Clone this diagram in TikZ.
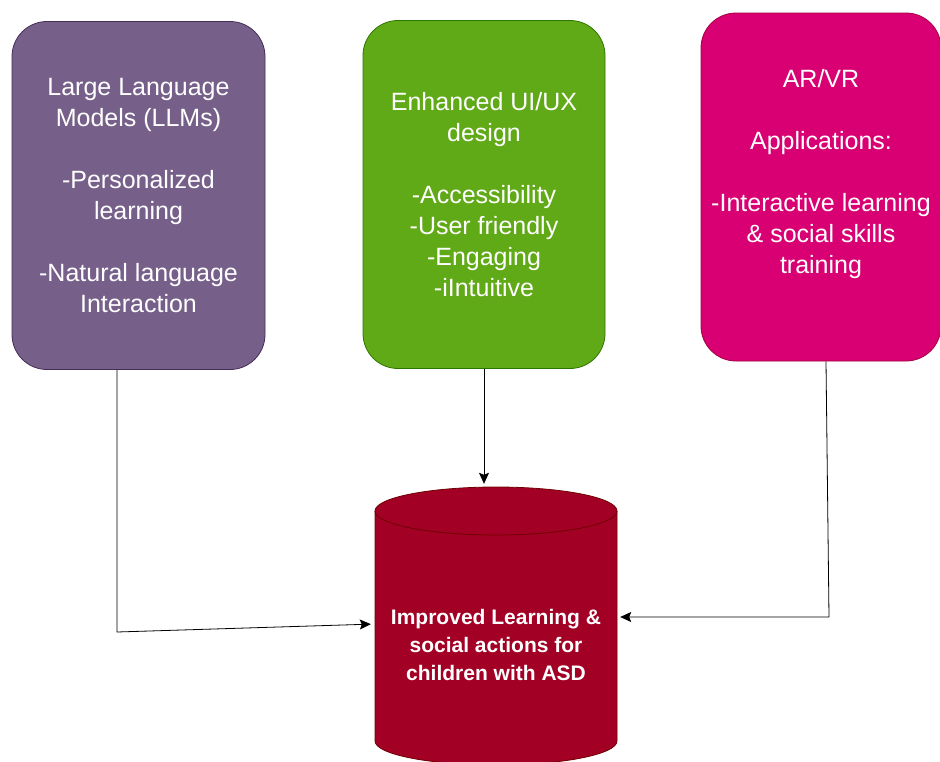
\documentclass[tikz,border=0pt]{standalone}
\usepackage{fontspec}
\setmainfont{Liberation Sans}
\usetikzlibrary{arrows.meta}
\definecolor{llmfill}{HTML}{76608A}
\definecolor{llmline}{HTML}{432D57}
\definecolor{uifill}{HTML}{60A917}
\definecolor{uiline}{HTML}{2D7600}
\definecolor{arfill}{HTML}{D80073}
\definecolor{arline}{HTML}{A50040}
\definecolor{goalfill}{HTML}{A20025}
\definecolor{goalline}{HTML}{6F0000}
\tikzset{
  topbox/.style={draw,rounded corners=35pt,line width=0.8pt,inner sep=0pt,
    align=center,text=white,minimum height=348pt,
    font=\fontsize{25}{31}\selectfont},
  goalbox/.style={inner sep=0pt,minimum width=242pt,minimum height=278pt},
  goalcyl/.style={draw=goalline,fill=goalfill,line width=0.8pt},
  goaltext/.style={align=center,text=white,font=\bfseries\fontsize{21}{28}\selectfont},
  link/.style={draw=black,line width=0.8pt,-{Stealth[length=11pt,width=10pt,inset=2pt]}}
}
\begin{document}
\begin{tikzpicture}[x=1pt,y=-1pt]
    \useasboundingbox (0,0) rectangle (940,761);
    % the three boxes on top
    \node[topbox,draw=llmline,fill=llmfill,minimum width=253pt] (llm) at (138.5,195.5)
        {Large Language\\Models (LLMs)\\[31pt]-Personalized\\learning\\[31pt]-Natural language\\Interaction};
    \node[topbox,draw=uiline,fill=uifill,minimum width=242pt] (ui) at (484,194.5)
        {Enhanced UI/UX\\design\\[31pt]-Accessibility\\-User friendly\\-Engaging\\-iIntuitive};
    \node[topbox,draw=arline,fill=arfill,minimum width=240pt] (ar) at (821,187)
        {AR/VR\\[31pt]Applications:\\[31pt]-Interactive learning\\\& social skills\\training\\~};
    % the goal (cylinder)
    \node[goalbox] (goal) at (496,626) {};
    \path[goalcyl] (375,511) -- (375,741)
        arc[start angle=180,end angle=0,x radius=121,y radius=24]
        -- (617,511) arc[start angle=0,end angle=-180,x radius=121,y radius=24] -- cycle;
    \draw[goalline,line width=0.8pt] (375,511) arc[start angle=180,end angle=0,x radius=121,y radius=24];
    \node[goaltext] (goaltxt) at ([yshift=-19pt]goal.center)
        {Improved Learning \&\\social actions for\\children with ASD};
    \coordinate (lbend) at (117,632);
    \coordinate (rbend) at (829,617);
    \draw[link,shorten >=4pt] (llm.south -| lbend) -- (lbend) -- ([yshift=2pt]goal.west);
    \draw[link,shorten >=3pt] (ui.south) -- (ui.south |- goal.north);
    \draw[link,shorten >=3pt] ([xshift=5pt]ar.south) -- (rbend) -- ([yshift=9pt]goal.east);
\end{tikzpicture}
\end{document}
